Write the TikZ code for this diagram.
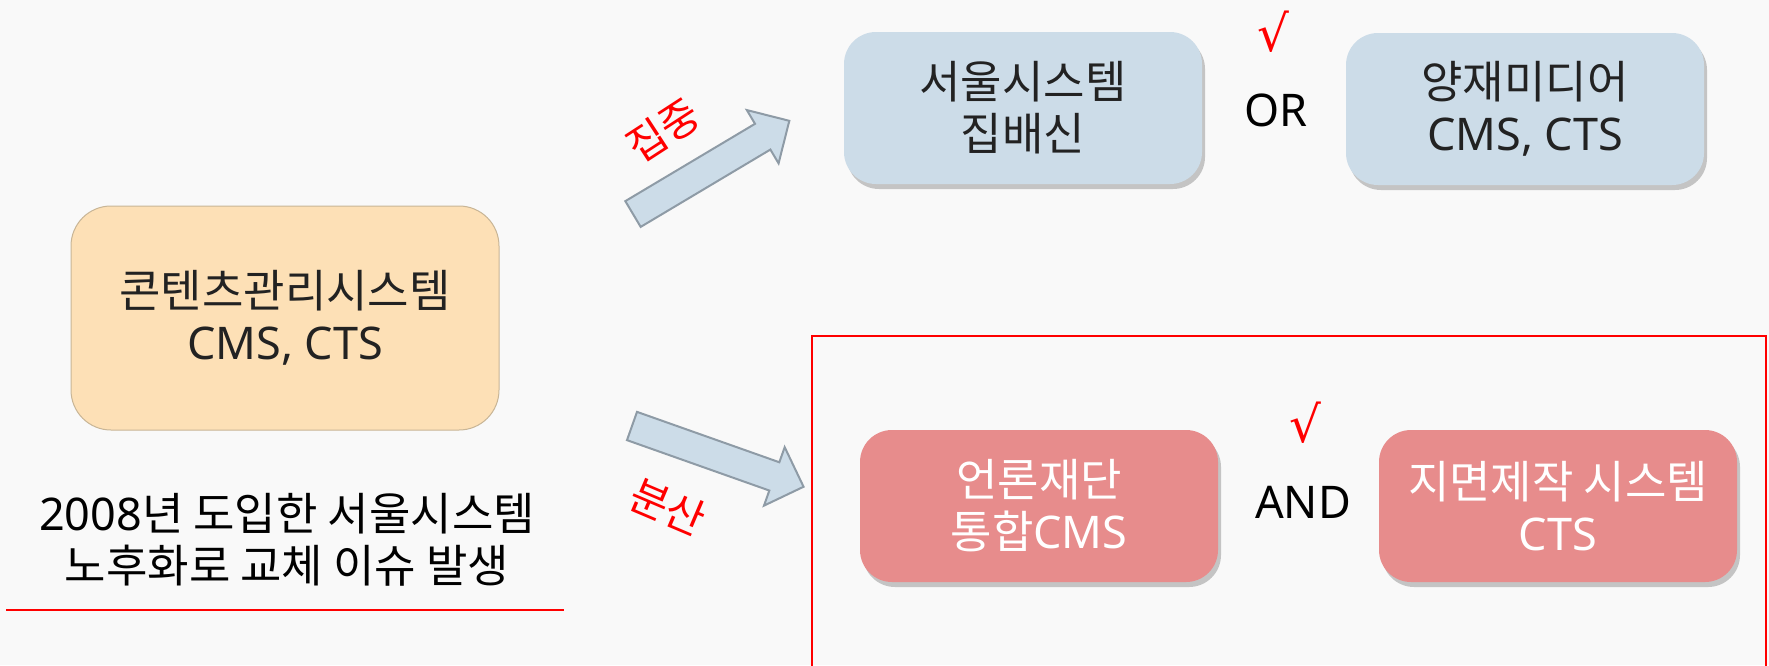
\documentclass[tikz,border=0pt]{standalone}
\usepackage{fontspec}
\setmainfont{Noto Sans}
\newfontfamily\kr{Noto Sans CJK KR}
\newfontfamily\chkfont{DejaVu Serif}
\usetikzlibrary{shadows}
\definecolor{bgc}{HTML}{F9F9F9}
\definecolor{peach}{HTML}{FDE0B6}
\definecolor{peachline}{HTML}{C8B596}
\definecolor{paleblue}{HTML}{CCDCE8}
\definecolor{arrowline}{HTML}{8E9BA6}
\definecolor{rose}{HTML}{E78C8C}
\definecolor{darktext}{HTML}{222222}
\begin{document}
\begin{tikzpicture}[x=1pt,y=-1pt,
  bigfont/.style={font=\fontsize{45}{52}\selectfont},
  box/.style={bigfont, align=center, inner sep=0pt, rounded corners=32pt,
    minimum width=358pt, minimum height=152pt},
  shadowed/.style={drop shadow={shadow xshift=3pt, shadow yshift=-5pt, opacity=0.3, fill=black!70}},
  topbox/.style={box, shadowed, fill=paleblue, text=darktext},
  redbox/.style={box, shadowed, fill=rose, text=white},
  joiner/.style={bigfont, text=black},
  tick/.style={font=\chkfont\fontsize{50}{50}\selectfont, text=red},
  redlabel/.style={font=\kr\fontsize{42}{42}\selectfont, text=red},
  blockarrow/.pic={\draw[fill=paleblue, draw=arrowline, line width=2pt, line join=miter]
     (0,-15) -- (151,-15) -- (151,-31) -- (182,0) -- (151,31) -- (151,15) -- (0,15) -- cycle;}
]
\useasboundingbox (0,0) rectangle (1769,665);
\fill[bgc] (0,0) rectangle (1769,665);
\clip (0,0) rectangle (1769,665);

% source box
\node[bigfont, align=center, inner sep=0pt, rounded corners=40pt,
      minimum width=428pt, minimum height=224pt,
      fill=peach, draw=peachline, line width=1pt, text=darktext]
  (cms) at (285,318) {{\kr 콘텐츠관리시스템}\\CMS, CTS};

\node[bigfont, align=center, text=black] (issue) at (287,540)
  {2008{\kr 년 도입한 서울시스템}\\{\kr 노후화로 교체 이슈 발생}};
\coordinate (ulL) at (6,610);
\coordinate (ulR) at (564,610);
\draw[red, line width=1.5pt] (ulL) -- (ulR);

% arrows
\pic[rotate=30.8] at (633,214) {blockarrow};
\pic[rotate=-19.5] at (632,426) {blockarrow};
\node[redlabel, rotate=33] (jj) at (663,130) {집중};
\node[redlabel, rotate=-23] (bs) at (668,507) {분산};

% top options
\node[topbox] (seoul) at (1023,108) {{\kr 서울시스템}\\{\kr 집배신}};
\node[topbox] (yj) at (1525,109) {{\kr 양재미디어}\\CMS, CTS};
\node[joiner] (or) at (1276,110) {OR};
\node[tick] (t1) at (1273,32) {√};

% bottom options
\draw[red, line width=2pt] (812,336) rectangle (1766,700);
\node[redbox] (kpf) at (1039,506) {{\kr 언론재단}\\{\kr 통합}CMS};
\node[redbox] (cts) at (1558,506) {{\kr 지면제작 시스템}\\CTS};
\node[joiner] (and) at (1303,502) {AND};
\node[tick] (t2) at (1305,423) {√};
\end{tikzpicture}
\end{document}
